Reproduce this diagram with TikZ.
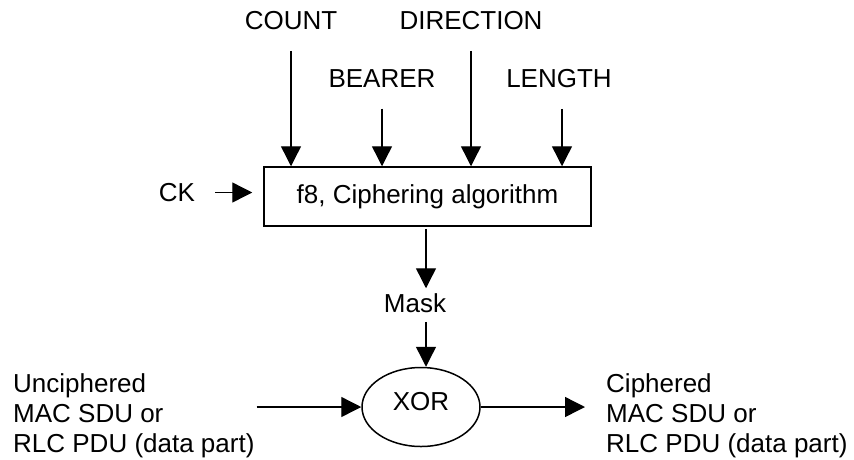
\documentclass[tikz,border=0pt]{standalone}
\usepackage{fontspec}
\setmainfont{Liberation Sans}
\usetikzlibrary{arrows.meta,positioning,calc,shapes.geometric}

\begin{document}
\begin{tikzpicture}[
  x=1pt,y=-1pt,
  font=\fontsize{26}{30}\selectfont,
  tag/.style={inner sep=0pt},
  block/.style={draw,line width=1.5pt,minimum width=327pt,minimum height=59pt,inner sep=0pt},
  gatexor/.style={draw,ellipse,line width=1.5pt,minimum width=118pt,minimum height=79pt,inner sep=0pt},
  datatext/.style={tag,align=left,anchor=west},
  flow/.style={-{Triangle[length=20pt,width=20pt]},line width=1.4pt}
]
  \useasboundingbox (0,0) rectangle (854,459);

  \node[tag] (count) at (291,20.5) {COUNT};
  \node[tag] (direction) at (471,20.5) {DIRECTION};
  \node[tag] (bearer) at (382,78.5) {BEARER};
  \node[tag] (length) at (559,78.5) {LENGTH};
  \node[block] (f8) at (427.5,196.5) {f8, Ciphering algorithm\hspace{14pt}};
  \node[tag] (ck) at (177,192.5) {CK};
  \node[tag] (mask) at (415,303) {Mask};
  \node[gatexor] (xor) at (421,407) {\raisebox{12pt}{XOR}\hspace{6pt}};
  \node[datatext] (plain) at (13,416) {Unciphered\\MAC SDU or\\RLC PDU (data part)};
  \node[datatext] (ciph) at (606,416) {Ciphered\\MAC SDU or\\RLC PDU (data part)};

  % inputs of f8
  \draw[flow] ([yshift=-21pt]count.south) -- (count.south |- f8.north);
  \draw[flow] ([yshift=-21pt]bearer.south) -- (bearer.south |- f8.north);
  \draw[flow] ([yshift=-21pt]direction.south) -- (direction.south |- f8.north);
  \draw[flow] ([shift={(3pt,-21pt)}]length.south) -- ([xshift=3pt]length.south |- f8.north);
  \draw[flow,shorten <=20pt,shorten >=11pt] (ck.east) -- (ck.east -| f8.west);

  % keystream and xor
  \draw[flow,shorten <=2pt,shorten >=5pt] ([xshift=11pt]f8.south -| mask) -- ([xshift=11pt]mask.north);
  \draw[flow,shorten <=9pt] ([xshift=11pt]mask.south) -- ([xshift=11pt]mask.south |- xor.north);
  \draw[flow,shorten <=2pt] (plain.east |- xor.west) -- (xor.west);
  \draw[flow,shorten >=21pt] (xor.east) -- (ciph.west |- xor.east);
\end{tikzpicture}
\end{document}
